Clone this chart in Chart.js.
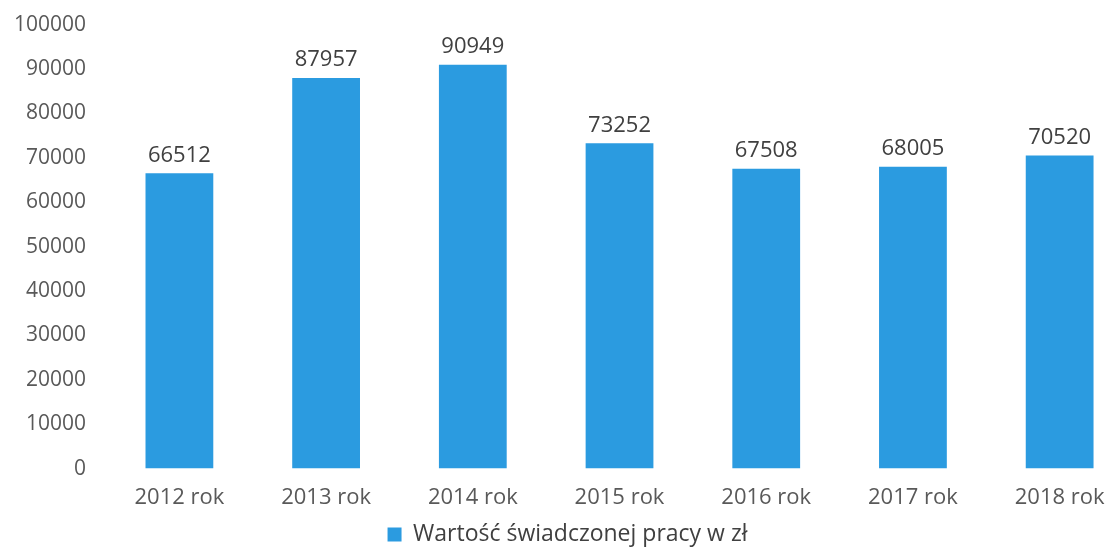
<!DOCTYPE html>
<html>
<head>
<meta charset="utf-8">
<script src="https://cdn.jsdelivr.net/npm/chart.js@4.4.1/dist/chart.umd.min.js"></script>
<style>
  html, body { margin: 0; padding: 0; background: #fff; overflow: hidden; }
  #wrap { width: 1133px; height: 556px; }
</style>
</head>
<body>
<div id="wrap"><canvas id="chart"></canvas></div>
<script>
// Wartość świadczonej pracy w latach 2012-2018
const years = ['2012 rok', '2013 rok', '2014 rok', '2015 rok', '2016 rok', '2017 rok', '2018 rok'];
const values = [66512, 87957, 90949, 73252, 67508, 68005, 70520];
const seriesName = 'Wartość świadczonej pracy w zł';
const barColor = '#2b9be0';

// draws the value above each bar
const valueLabels = {
    id: 'valueLabels',
    afterDatasetsDraw(chart) {
        const ctx = chart.ctx;
        const meta = chart.getDatasetMeta(0);
        ctx.save();
        ctx.font = '22px "Open Sans"';
        ctx.fillStyle = '#404040';
        ctx.textAlign = 'center';
        ctx.textBaseline = 'bottom';
        meta.data.forEach((bar, i) => {
            ctx.fillText(String(values[i]), bar.x, bar.y - 7);
        });
        ctx.restore();
    }
};

new Chart(document.getElementById('chart'), {
    type: 'bar',
    data: {
        labels: years,
        datasets: [{
            label: seriesName,
            data: values,
            backgroundColor: barColor,
            barPercentage: 0.6,
            categoryPercentage: 0.77
        }]
    },
    options: {
        responsive: true,
        maintainAspectRatio: false,
        animation: false,
        layout: { padding: { top: 8, left: 2, right: 0, bottom: 0 } },
        plugins: {
            legend: {
                position: 'bottom',
                labels: {
                    font: { family: 'Open Sans', size: 23 },
                    color: '#404040',
                    boxWidth: 14,
                    boxHeight: 14,
                    padding: 4
                }
            },
            tooltip: { enabled: false }
        },
        scales: {
            x: {
                grid: { display: false },
                border: { display: false },
                ticks: {
                    font: { family: 'Open Sans', size: 22 },
                    color: '#595959',
                    padding: 8
                }
            },
            y: {
                min: 0,
                max: 100000,
                grid: { display: false },
                border: { display: false },
                ticks: {
                    stepSize: 10000,
                    font: { family: 'Open Sans', size: 21 },
                    color: '#595959',
                    padding: 12,
                    callback: v => String(v)
                }
            }
        }
    },
    plugins: [valueLabels]
});
</script>
</body>
</html>
